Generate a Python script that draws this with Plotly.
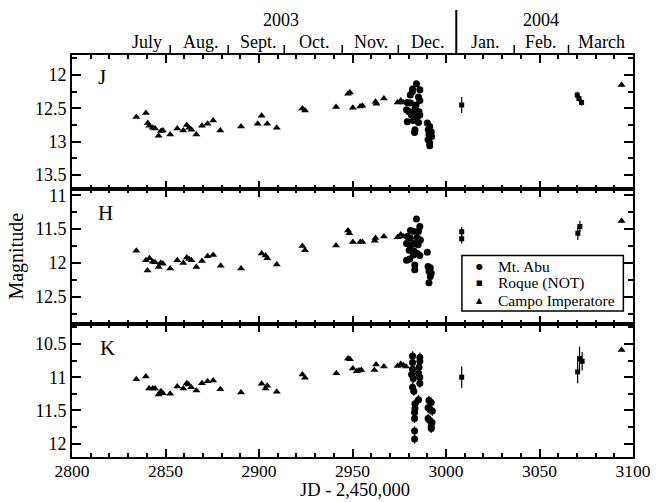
import plotly.graph_objects as go
from plotly.subplots import make_subplots

# ---------------- data (JD - 2,450,000, magnitude) ----------------
ci_jd_J = [2834.4, 2839.5, 2840.5, 2841.4, 2843.2, 2844.4, 2846.3, 2847.6, 2848.6, 2852.5,
           2856.3, 2859.5, 2861.4, 2862.6, 2863.9, 2866.5, 2869.5, 2872.5, 2875.5, 2879.3,
           2890.4, 2899.3, 2901.4, 2904.4, 2909.5, 2923.2, 2924.6, 2941.2, 2947.6, 2948.6,
           2950.2, 2954.1, 2955.3, 2962.3, 2962.8, 2966.8, 2974.1, 2975.8, 2977.2, 3093.9]
ci_J = [12.63, 12.57, 12.72, 12.76, 12.79, 12.80, 12.91, 12.84, 12.83, 12.89,
        12.80, 12.83, 12.75, 12.79, 12.82, 12.89, 12.76, 12.73, 12.68, 12.83,
        12.77, 12.73, 12.61, 12.73, 12.79, 12.50, 12.53, 12.48, 12.28, 12.26,
        12.49, 12.47, 12.46, 12.40, 12.43, 12.35, 12.41, 12.38, 12.41, 12.15]

ci_jd_H = [2834.4, 2839.5, 2840.4, 2841.4, 2843.2, 2844.4, 2846.3, 2847.4, 2848.6, 2852.5,
           2856.3, 2859.5, 2861.4, 2862.6, 2863.9, 2866.5, 2869.5, 2872.5, 2875.5, 2879.5,
           2890.4, 2901.4, 2903.5, 2904.4, 2909.5, 2923.2, 2924.6, 2941.2, 2947.6, 2948.3,
           2950.2, 2954.1, 2955.3, 2961.9, 2962.3, 2966.8, 2974.1, 2975.8, 2977.2, 3093.9]
ci_H = [11.82, 11.96, 12.11, 11.93, 11.98, 11.99, 12.06, 12.00, 12.01, 12.08,
        11.96, 12.00, 11.92, 11.94, 11.96, 12.06, 11.97, 11.90, 11.88, 12.04,
        12.08, 11.86, 11.89, 11.93, 12.02, 11.75, 11.81, 11.74, 11.52, 11.56,
        11.69, 11.69, 11.69, 11.67, 11.63, 11.61, 11.62, 11.58, 11.61, 11.38]

ci_jd_K = [2834.4, 2839.5, 2841.2, 2843.2, 2844.4, 2846.3, 2847.6, 2848.6, 2852.5, 2856.3,
           2859.5, 2861.4, 2862.3, 2863.7, 2866.5, 2869.5, 2872.5, 2875.5, 2879.3, 2890.4,
           2901.4, 2903.5, 2904.4, 2909.5, 2923.2, 2924.6, 2941.4, 2947.6, 2948.6, 2950.2,
           2952.3, 2953.5, 2954.7, 2961.7, 2962.6, 2966.8, 2974.1, 2975.8, 2977.2, 2978.6,
           3093.9]
ci_K = [11.03, 10.99, 11.17, 11.17, 11.17, 11.26, 11.21, 11.24, 11.25, 11.14,
        11.17, 11.09, 11.11, 11.15, 11.20, 11.09, 11.06, 11.05, 11.18, 11.23,
        11.10, 11.17, 11.13, 11.22, 10.96, 11.01, 10.94, 10.72, 10.73, 10.87,
        10.91, 10.90, 10.89, 10.89, 10.81, 10.84, 10.83, 10.80, 10.82, 10.84,
        10.59]

abu_jd_J = [2984.2, 2982.1, 2986.0, 2980.9, 2985.3, 2986.0, 2979.3, 2981.0, 2978.9, 2980.3,
            2982.1, 2983.5, 2985.6, 2986.0, 2984.6, 2979.3, 2982.5, 2985.3, 2983.4, 2983.2,
            2982.0, 2981.5, 2984.0,
            2990.0, 2991.3, 2990.5, 2992.1, 2990.9, 2992.3, 2990.4, 2991.3, 2991.3]
abu_J = [12.13, 12.21, 12.22, 12.30, 12.33, 12.38, 12.41, 12.42, 12.52, 12.55,
         12.56, 12.50, 12.55, 12.60, 12.63, 12.70, 12.68, 12.71, 12.82, 12.86,
         12.25, 12.60, 12.45,
         12.72, 12.77, 12.82, 12.85, 12.90, 12.92, 12.97, 13.02, 13.06]

abu_jd_H = [2984.2, 2986.0, 2981.0, 2982.5, 2985.3, 2979.3, 2981.0, 2984.6, 2986.3, 2978.9,
            2981.0, 2983.3, 2985.1, 2980.3, 2982.8, 2984.6, 2982.5, 2986.0, 2978.9, 2980.6,
            2983.3, 2983.3, 2990.0, 2990.4, 2991.6, 2990.9, 2992.1, 2991.6, 2990.9]
abu_H = [11.35, 11.46, 11.52, 11.53, 11.53, 11.61, 11.63, 11.62, 11.66, 11.71,
         11.73, 11.71, 11.73, 11.81, 11.82, 11.86, 11.88, 11.89, 11.96, 11.94,
         12.03, 12.10, 11.84, 12.05, 12.07, 12.12, 12.15, 12.20, 12.29]

abu_jd_K = [2982.1, 2982.1, 2982.1, 2981.6, 2982.5, 2982.1, 2982.8, 2983.4, 2983.4, 2983.2,
            2983.2, 2983.2, 2983.2, 2986.0, 2986.0, 2985.6, 2985.3, 2986.0, 2986.0, 2985.3,
            2990.9, 2992.1, 2990.4, 2991.6, 2992.7, 2990.4, 2991.3, 2992.5, 2992.1, 2992.1]
abu_K = [10.68, 10.78, 10.88, 10.96, 11.02, 11.15, 11.21, 11.40, 11.47, 11.53,
         11.62, 11.81, 11.93, 10.70, 10.76, 10.85, 10.94, 11.00, 11.09, 11.34,
         11.35, 11.38, 11.46, 11.49, 11.51, 11.62, 11.65, 11.68, 11.74, 11.77]
abu_K_err = [0.07] * len(abu_K)

not_jd_J = [3008.4, 3070.2, 3071.1, 3072.5]
not_J = [12.45, 12.30, 12.35, 12.41]
not_J_err = [0.12, 0.05, 0.05, 0.05]

not_jd_H = [3008.4, 3008.4, 3070.5, 3071.6]
not_H = [11.54, 11.64, 11.56, 11.46]
not_H_err = [0.07, 0.07, 0.10, 0.08]

not_jd_K = [3008.4, 3070.4, 3071.4, 3072.8]
not_K = [11.00, 10.92, 10.72, 10.76]
not_K_err = [0.16, 0.17, 0.18, 0.14]

months = ["July", "Aug.", "Sept.", "Oct.", "Nov.", "Dec.", "Jan.", "Feb.", "March"]
month_label_jd = [2840, 2869, 2899.5, 2929.5, 2960, 2990, 3021, 3051, 3083]
month_start_jd = [2852.5, 2883.5, 2913.5, 2944.5, 2974.5, 3036.5, 3065.5]
year_start_jd = 3005.5
years = ["2003", "2004"]
year_label_jd = [2912, 3051]

bands = ["J", "H", "K"]
y_ranges = [[13.7, 11.7], [12.9, 10.9], [12.2, 10.2]]

# ---------------- figure ----------------
FONT = "Liberation Serif"
fig = make_subplots(rows=3, cols=1, shared_xaxes=True, vertical_spacing=0)

tri = dict(symbol="triangle-up", size=7, color="black")
circ = dict(symbol="circle", size=7, color="black")
sq = dict(symbol="square", size=5, color="black")

panels = [
    (ci_jd_J, ci_J, abu_jd_J, abu_J, None, not_jd_J, not_J, not_J_err),
    (ci_jd_H, ci_H, abu_jd_H, abu_H, None, not_jd_H, not_H, not_H_err),
    (ci_jd_K, ci_K, abu_jd_K, abu_K, abu_K_err, not_jd_K, not_K, not_K_err),
]
for i, (cx, cy, ax, ay, aerr, nx, ny, nerr) in enumerate(panels):
    r = i + 1
    fig.add_trace(go.Scatter(x=cx, y=cy, mode="markers", marker=tri, name="Campo Imperatore",
                             showlegend=False), row=r, col=1)
    abu_kw = dict(x=ax, y=ay, mode="markers", marker=circ, name="Mt. Abu", showlegend=False)
    if aerr is not None:
        abu_kw["error_y"] = dict(type="data", array=aerr, visible=True, color="black",
                                 thickness=1.2, width=0)
    fig.add_trace(go.Scatter(**abu_kw), row=r, col=1)
    fig.add_trace(go.Scatter(x=nx, y=ny, mode="markers", marker=sq, name="Roque (NOT)",
                             showlegend=False,
                             error_y=dict(type="data", array=nerr, visible=True, color="black",
                                          thickness=1.2, width=0)), row=r, col=1)

axis_common = dict(showline=True, linecolor="black", linewidth=2, mirror="allticks",
                   ticks="inside", tickcolor="black", tickwidth=1.5, showgrid=False,
                   zeroline=False)
for r in (1, 2, 3):
    fig.update_xaxes(range=[2800, 3100], tick0=2800, dtick=50, ticklen=8,
                     tickfont=dict(family=FONT, size=17.5, color="black"),
                     ticklabelstandoff=-3,
                     minor=dict(dtick=10, ticklen=4, ticks="inside", tickcolor="black",
                                tickwidth=1.5, showgrid=False),
                     showticklabels=(r == 3), row=r, col=1, **axis_common)
    fig.update_yaxes(range=y_ranges[r - 1], autorange=False, tick0=0, dtick=0.5, ticklen=9,
                     tickfont=dict(family=FONT, size=18, color="black"),
                     minor=dict(dtick=0.25, ticklen=5, ticks="inside", tickcolor="black",
                                tickwidth=1.5, showgrid=False),
                     row=r, col=1, **axis_common)

PH = 402.0
fig.update_layout(
    yaxis=dict(domain=[268.5 / PH, 1.0]),
    yaxis2=dict(domain=[133.0 / PH, 268.5 / PH]),
    yaxis3=dict(domain=[0.0, 133.0 / PH]),
)


def px_x(px):
    return (px - 72.3) / 570.0


def px_y(py):
    return (457.0 - py) / PH


annotations = []
shapes = []
C = dict(showarrow=False, xanchor="center", yanchor="middle")
# month labels and separators (top)
for m, jd in zip(months, month_label_jd):
    annotations.append(dict(x=jd, y=px_y(42), xref="x", yref="paper", text=m,
                            font=dict(family=FONT, size=18, color="black"), **C))
for y_txt, jd in zip(years, year_label_jd):
    annotations.append(dict(x=jd, y=px_y(20), xref="x", yref="paper", text=y_txt,
                            font=dict(family=FONT, size=18, color="black"), **C))
for jd in month_start_jd:
    shapes.append(dict(type="line", xref="x", yref="paper", x0=jd, x1=jd, y0=1.0, y1=px_y(45),
                       line=dict(color="black", width=1.5)))
shapes.append(dict(type="line", xref="x", yref="paper", x0=year_start_jd, x1=year_start_jd,
                   y0=1.0, y1=px_y(10), line=dict(color="black", width=2)))

# panel letters
for b, (lx, ly) in zip(bands, [(102.7, 76.7), (106.7, 213.3), (108.3, 348.3)]):
    annotations.append(dict(x=px_x(lx), y=px_y(ly), xref="paper", yref="paper", text=b,
                            font=dict(family=FONT, size=21, color="black"), **C))

# axis titles
annotations.append(dict(x=px_x(15), y=px_y(256), xref="paper", yref="paper", text="Magnitude",
                        textangle=-90, font=dict(family=FONT, size=20, color="black"), **C))
annotations.append(dict(x=px_x(360), y=px_y(489.5), xref="paper", yref="paper",
                        text="JD - 2,450,000", font=dict(family=FONT, size=18.5, color="black"), **C))

# legend box
shapes.append(dict(type="rect", xref="paper", yref="paper", x0=px_x(468.5), x1=px_x(632.5),
                   y0=px_y(311), y1=px_y(255.5), line=dict(color="black", width=1.5),
                   fillcolor="white", layer="above"))
leg = [("●", "Mt. Abu", 8), ("■", "Roque (NOT)", 7), ("▲", "Campo Imperatore", 8)]
for (sym, lab, ss), ly in zip(leg, [266.5, 283.3, 300.0]):
    annotations.append(dict(x=px_x(486), y=px_y(ly), xref="paper", yref="paper", text=sym,
                            font=dict(family="DejaVu Sans", size=ss, color="black"), **C))
    annotations.append(dict(x=px_x(503), y=px_y(ly), xref="paper", yref="paper", text=lab,
                            showarrow=False, xanchor="left", yanchor="middle",
                            font=dict(family=FONT, size=15.5, color="black")))

fig.update_layout(
    width=663, height=502,
    margin=dict(l=72, r=21, t=55, b=45),
    paper_bgcolor="white", plot_bgcolor="white",
    font=dict(family=FONT, size=18, color="black"),
    showlegend=False,
    annotations=annotations, shapes=shapes,
)

fig.write_html("out.html", config={"displayModeBar": False},
               post_script="document.body.style.margin='0';document.body.style.overflow='hidden';")
